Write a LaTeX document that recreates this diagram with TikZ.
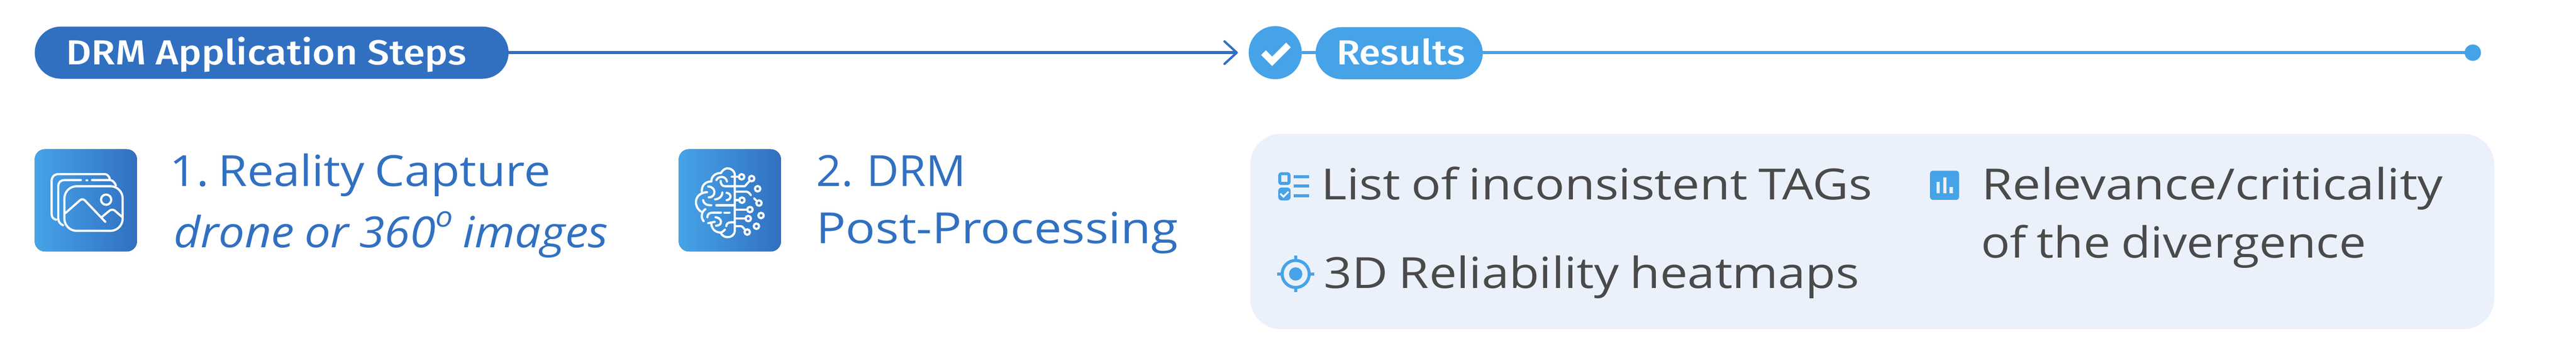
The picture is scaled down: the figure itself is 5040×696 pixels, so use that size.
\documentclass[tikz,border=0pt]{standalone}
\usepackage{fontspec}
\usepackage{graphicx}
\usetikzlibrary{arrows.meta,shapes.misc}
\newfontfamily\lightfont{Open Sans}[WordSpace=0.85]
\newfontfamily\medfont{Fira Sans}[UprightFont={* Medium}]
\definecolor{darkblue}{HTML}{3170C1}
\definecolor{lightblue}{HTML}{46A3E8}
\definecolor{panelblue}{HTML}{EAF1FB}
\definecolor{txtgray}{HTML}{4A4A4A}
\newcommand\fitw[2]{\resizebox{#1pt}{\height}{#2}}
\tikzset{
  every node/.style={inner sep=0pt,outer sep=0pt},
  pillbox/.style={rounded rectangle,minimum height=102pt,inner sep=0pt},
  txt/.style={anchor=base west,font=\fontsize{84}{84}\lightfont},
  pilltxt/.style={anchor=base west,text=white,font=\fontsize{68}{68}\medfont},
  stepcol/.style={txt,text=darkblue},
  rescol/.style={txt,text=txtgray},
  iconbox/.style={rounded corners=20pt,left color=lightblue,right color=darkblue,draw=none},
  iconline/.style={draw=white,line width=4.2pt,line cap=round,line join=round},
  conn/.style={line width=5.5pt},
  iconfill/.style={fill=lightblue,draw=none},
}
\begin{document}
\begin{tikzpicture}[x=1pt,y=-1pt]
\useasboundingbox (0,0) rectangle (5040,696);
\fill[panelblue,rounded corners=60pt] (2446,262) rectangle (4880,644);

% header nodes
\node[pillbox,fill=darkblue,minimum width=927pt] (steps) at (531.5,103) {};
\node[circle,fill=lightblue,minimum size=104pt] (check) at (2495,103) {};
\node[pillbox,fill=lightblue,minimum width=327pt] (results) at (2737.5,104) {};
\node[circle,fill=lightblue,minimum size=32pt] (enddot) at (4838,103) {};
\draw[conn,darkblue,shorten >=21pt,-{Straight Barb[length=24pt,width=44pt,line width=4.5pt,round]}] (steps.east) -- (check.west);
\draw[conn,lightblue] (check.east) -- (results.west |- check.east);
\draw[conn,lightblue] (results.east |- enddot.west) -- (enddot.west);
\draw[white,line width=13pt,line cap=butt,line join=miter] (2472,103) -- (2489,120) -- (2521,88);

% header text
\node[pilltxt] (stepslabel) at (130,126) {\fitw{783}{DRM Application Steps}};
\node[pilltxt] (resultslabel) at (2615,127) {\fitw{252}{Results}};

% step icons
\fill[iconbox] (68,292) rectangle (268,492);
\fill[iconbox] (1328,292) rectangle (1528,492);

\begin{scope}[shift={(40,270)},x=0.3333pt,y=-0.3333pt]
  \draw[iconline,rounded corners=24pt] (258,283) rectangle (600,545);
  \draw[iconline] (250,512) .. controls (232,505) and (222,490) .. (222,470) -- (222,285) .. controls (222,260) and (235,247) .. (260,247) -- (355,247);
  \draw[iconline] (420,247) -- (525,247) .. controls (540,247) and (553,260) .. (560,278);
  \draw[iconline] (388,248) -- (392,248);
  \draw[iconline] (210,480) .. controls (192,475) and (183,465) .. (183,445) -- (183,255) .. controls (183,228) and (198,212) .. (225,212) -- (495,212) .. controls (510,212) and (520,225) .. (525,240);
  \draw[iconline] (265,440) -- (350,365) .. controls (358,358) and (370,358) .. (378,366) -- (498,492);
  \draw[iconline] (480,462) -- (525,425) .. controls (532,420) and (545,420) .. (552,425) -- (595,462);
  \draw[iconline] (503,362) circle (30);
\end{scope}

\begin{scope}[shift={(1320,270)},x=0.3333pt,y=-0.3333pt]
  \draw[iconline] (353,545) -- (353,215) .. controls (350,190) and (330,178) .. (310,178) .. controls (295,178) and (280,190) .. (272,205);
  \draw[iconline] (272,205) .. controls (240,205) and (215,225) .. (215,255);
  \draw[iconline] (215,255) .. controls (180,255) and (155,280) .. (160,318);
  \draw[iconline] (190,318) .. controls (150,320) and (125,345) .. (125,375) .. controls (125,400) and (135,420) .. (155,432);
  \draw[iconline] (180,418) .. controls (160,430) and (150,465) .. (170,488);
  \draw[iconline] (197,500) -- (235,492);
  \draw[iconline] (215,505) .. controls (218,535) and (240,555) .. (270,555);
  \draw[iconline] (295,538) .. controls (285,548) and (278,552) .. (270,557) .. controls (280,575) and (295,582) .. (310,582) .. controls (335,582) and (353,565) .. (353,545);
  \draw[iconline] (245,247) .. controls (255,222) and (300,220) .. (307,255);
  \draw[iconline] (270,252) .. controls (270,272) and (280,283) .. (295,283) -- (412,283) -- (440,252);
  \draw[iconline] (335,228) -- (378,228);
  \draw[iconline] (197,285) .. controls (245,285) and (245,350) .. (200,348);
  \draw[iconline] (237,360) .. controls (262,358) and (278,345) .. (280,320);
  \draw[iconline] (305,322) .. controls (335,325) and (335,362) .. (305,365);
  \draw[iconline] (360,315) -- (420,315) .. controls (432,315) and (440,325) .. (447,335);
  \draw[iconline] (360,365) -- (380,365);
  \draw[iconline] (467,355) -- (482,370);
  \draw[iconline] (167,365) .. controls (170,385) and (185,395) .. (215,395);
  \draw[iconline] (245,395) -- (353,395);
  \draw[iconline] (360,420) -- (425,420);
  \draw[iconline] (192,465) .. controls (192,445) and (205,438) .. (225,438) -- (272,438);
  \draw[iconline] (292,438) -- (322,438);
  \draw[iconline] (360,473) -- (415,473);
  \draw[iconline] (360,518) -- (390,518) .. controls (400,520) and (405,530) .. (413,540);
  \draw[iconline] (240,465) .. controls (282,470) and (282,515) .. (243,515);
  \draw[iconline] (303,517) .. controls (303,503) and (315,495) .. (330,495) -- (350,495);
  \foreach \cx/\cy in {393/228,452/238,487/298,395/365,495/382,442/420,432/473,507/455,480/518,426/552}
    \draw[iconline] (\cx,\cy) circle (16);
\end{scope}

% step text
\node[stepcol] (stepone) at (332,364) {\fitw{745}{1.\hspace{-10pt} Reality Capture}};
\node[stepcol] (steponeb) at (340,484) {\fitw{850}{\itshape drone or 360\raisebox{40pt}{\fontsize{56}{56}\selectfont o} images}};
\node[stepcol] (steptwo) at (1597,364) {\fitw{293}{2. DRM}};
\node[stepcol] (steptwob) at (1597,476) {\fitw{708}{Post-Processing}};

% result text
\node[rescol] (resa) at (2585,391) {\fitw{1078}{List of inconsistent TAGs}};
\node[rescol] (resb) at (2590,564) {\fitw{1048}{3D Reliability heatmaps}};
\node[rescol] (resc) at (3877,391) {\fitw{903}{Relevance/criticality}};
\node[rescol] (resd) at (3876,504) {\fitw{753}{of the divergence}};

% list icon
\fill[iconfill,rounded corners=6pt] (2501,337) rectangle (2525,362);
\fill[panelblue] (2507,343) rectangle (2519,356);
\fill[iconfill,rounded corners=6pt] (2501,367) rectangle (2525,392);
\draw[white,line width=3.4pt] (2505,379) -- (2511,385) -- (2521,375);
\foreach \ly in {346,364,383}
  \fill[lightblue] (2531,\ly-3) rectangle (2561,\ly+3);

% target icon
\draw[lightblue,line width=6pt] (2535,536) circle (26.5);
\fill[lightblue] (2535,536) circle (13);
\draw[lightblue,line width=6.5pt] (2535,500) -- (2535,510) (2535,562) -- (2535,572) (2499,536) -- (2509,536) (2561,536) -- (2571,536);

% chart icon
\fill[iconfill,rounded corners=6pt] (3776,334) rectangle (3833,391);
\fill[panelblue] (3789,356) rectangle (3795,378) (3802,347) rectangle (3808,378) (3814,366) rectangle (3821,378);
\end{tikzpicture}
\end{document}
